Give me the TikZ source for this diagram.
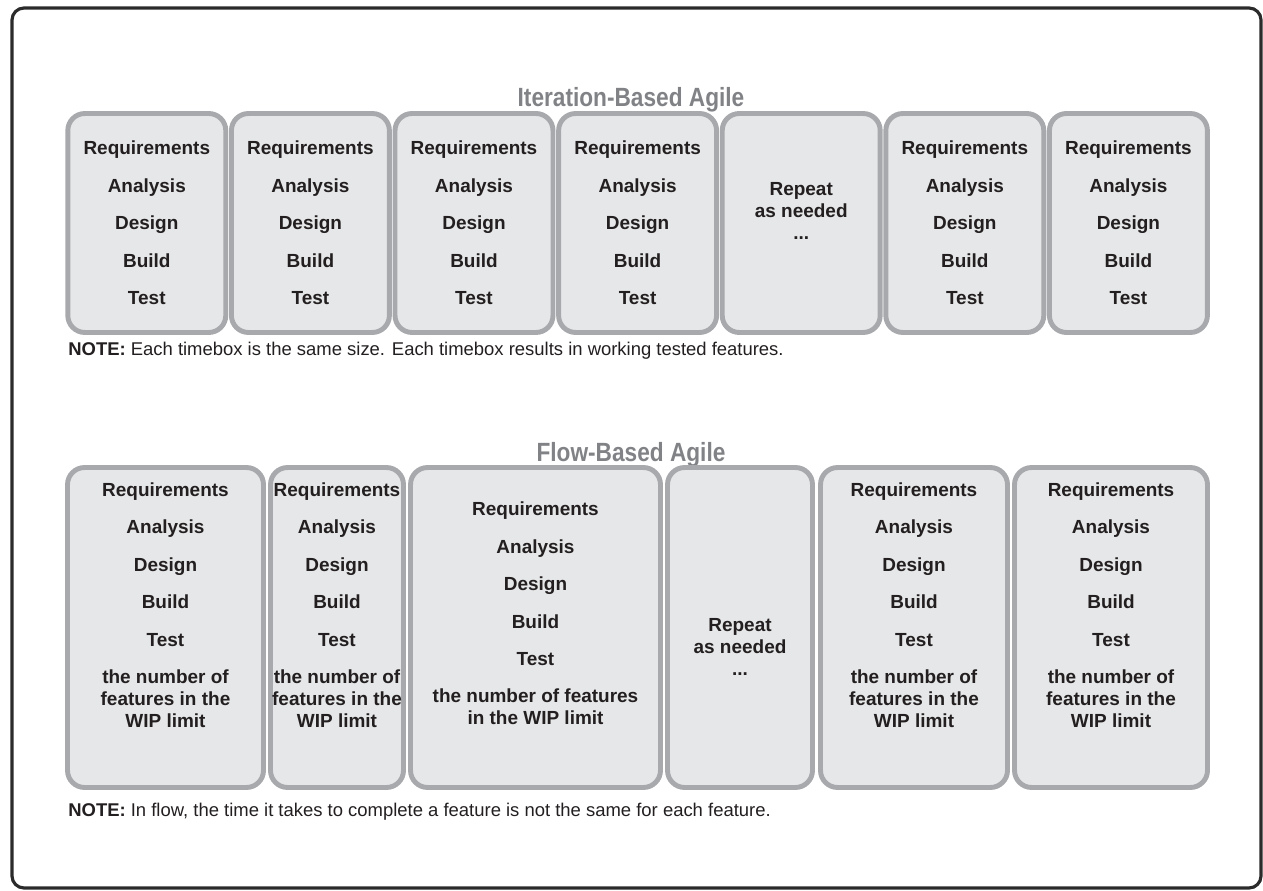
\documentclass[tikz,border=0pt]{standalone}
\usepackage{fontspec}
\setmainfont{Liberation Sans}
\newfontfamily\headfont[FakeStretch=0.86]{Liberation Sans}
\usetikzlibrary{positioning}

\definecolor{boxline}{HTML}{A7A9AC}
\definecolor{boxfill}{HTML}{E6E7E8}
\definecolor{headgray}{HTML}{808285}
\definecolor{ink}{HTML}{231F20}
\definecolor{framegray}{HTML}{2B2B2B}

\newcommand{\phasegap}{\\[8.9pt]}

\begin{document}
\begin{tikzpicture}[x=0.02cm, y=-0.02cm,
    timebox/.style={draw=boxline, fill=boxfill, line width=2.8pt, rounded corners=0.34cm, inner sep=0pt},
    toprow/.style={timebox, minimum width=3.16cm, minimum height=4.38cm},
    lowrow/.style={timebox, minimum width=#1, minimum height=6.4cm},
    phases/.style={font=\fontsize{10.8}{12.4}\selectfont\bfseries, text=ink, align=center, inner sep=0pt},
    heading/.style={font=\headfont\fontsize{15}{17}\selectfont\bfseries, text=headgray},
    note/.style={font=\fontsize{10.5}{12}\selectfont, text=ink, anchor=west, inner sep=0pt}]

\useasboundingbox (0,0) rectangle (1263,891);
\draw[framegray, line width=1.8pt, rounded corners=0.24cm] (12,8) rectangle (1261,888);

% iteration based
\node[heading] (itertitle) at (631,100) {Iteration-Based Agile};
\foreach \i in {1,...,7}
  \node[toprow] (it\i) at ({146.8+(\i-1)*163.6},223) {};
\foreach \i in {1,2,3,4,6,7}
  \node[phases] (it\i txt) at (it\i) {Requirements\phasegap Analysis\phasegap Design\phasegap Build\phasegap Test};
\node[phases, yshift=0.24cm] (it5txt) at (it5) {Repeat\\as needed\\...};
\node[note] (iternote) at (68,351) {\textbf{NOTE:} Each timebox is the same size. Each timebox results in working tested features.};

% flow based
\node[heading] (flowtitle) at (631,455) {Flow-Based Agile};
\foreach \n/\x/\w in {1/165.5/3.92, 2/337/2.66, 3/535.5/5.0, 4/740/2.9, 5/914/3.74, 6/1111/3.86}
  \node[lowrow=\w cm] (fl\n) at (\x,627.5) {};
\foreach \n in {1,2,5,6}
  \node[phases, yshift=0.45cm] (fl\n txt) at (fl\n) {Requirements\phasegap Analysis\phasegap Design\phasegap Build\phasegap Test\phasegap the number of\\features in the\\WIP limit};
\node[phases, yshift=0.28cm] (fl3txt) at (fl3) {Requirements\phasegap Analysis\phasegap Design\phasegap Build\phasegap Test\phasegap the number of features\\in the WIP limit};
\node[phases, yshift=-0.39cm] (fl4txt) at (fl4) {Repeat\\as needed\\...};
\node[note] (flownote) at (68,812) {\textbf{NOTE:} In flow, the time it takes to complete a feature is not the same for each feature.};
\end{tikzpicture}
\end{document}
